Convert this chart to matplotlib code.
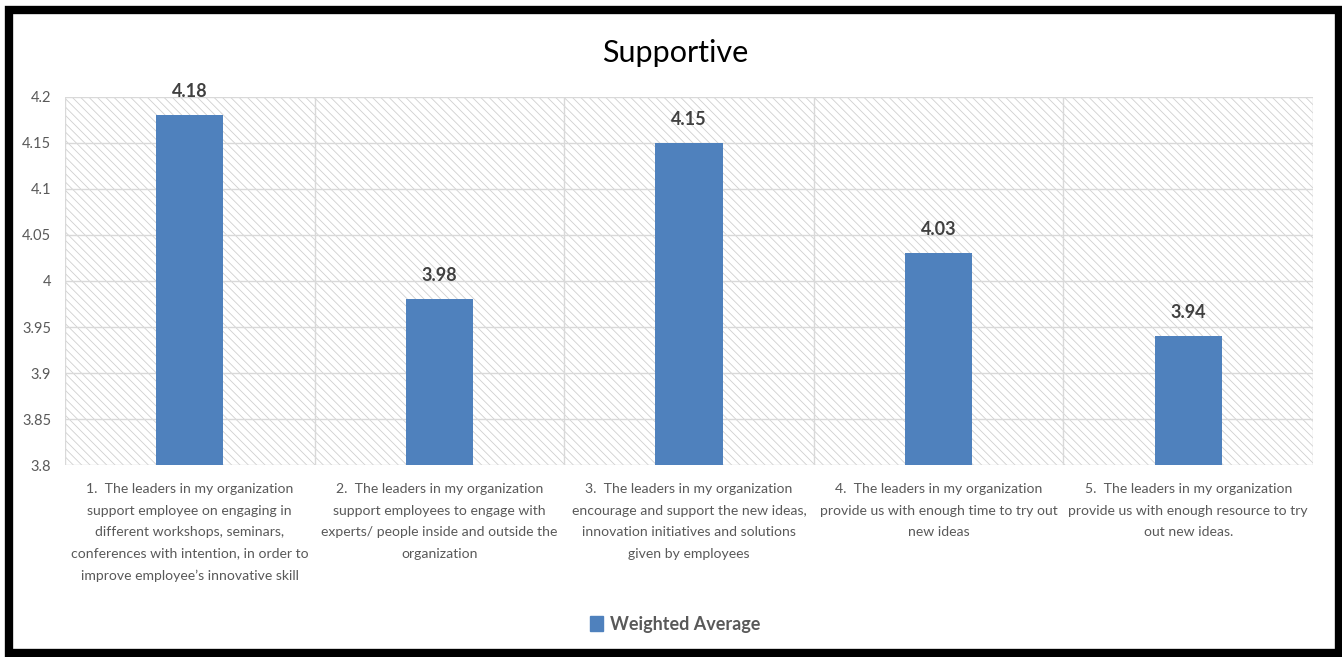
import matplotlib.pyplot as plt
from matplotlib.patches import Rectangle, Patch

plt.rcParams['font.family'] = ['Lato', 'DejaVu Sans']
plt.rcParams['hatch.linewidth'] = 0.6
plt.rcParams['hatch.color'] = '#d0d0d0'

categories = [
    "1.  The leaders in my organization\nsupport employee on engaging in\ndifferent workshops, seminars,\nconferences with intention, in order to\nimprove employee\u2019s innovative skill",
    "2.  The leaders in my organization\nsupport employees to engage with\nexperts/ people inside and outside the\norganization",
    "3.  The leaders in my organization\nencourage and support the new ideas,\ninnovation initiatives and solutions\ngiven by employees",
    "4.  The leaders in my organization\nprovide us with enough time to try out\nnew ideas",
    "5.  The leaders in my organization\nprovide us with enough resource to try\nout new ideas.",
]
weighted_avg = [4.18, 3.98, 4.15, 4.03, 3.94]
y_ticks = [3.8, 3.85, 3.9, 3.95, 4.0, 4.05, 4.1, 4.15, 4.2]
y_tick_labels = ['3.8', '3.85', '3.9', '3.95', '4', '4.05', '4.1', '4.15', '4.2']

bar_color = '#4f81bd'
grid_color = '#d9d9d9'
text_gray = '#595959'

fig = plt.figure(figsize=(13.42, 6.57), dpi=100)
ax = fig.add_axes([0.0484, 0.2922, 0.930, 0.5602])

# black frame around the whole chart
fig.patches.append(Rectangle((9 / 1342, 4 / 657), 1330 / 1342, 643 / 657,
                             transform=fig.transFigure, fill=False,
                             edgecolor='black', linewidth=6, zorder=0))

# hatched plot area background
n = len(weighted_avg)
ax.add_patch(Rectangle((-0.5, 3.8), n, 0.4, facecolor='white', hatch='\\\\\\\\',
                       edgecolor='#d0d0d0', linewidth=0, zorder=0))

x = list(range(n))
bars = ax.bar(x, weighted_avg, width=0.27, color=bar_color, zorder=3,
              label='Weighted Average')

for xi, v in zip(x, weighted_avg):
    ax.annotate(f'{v:.2f}', (xi, v), xytext=(0, 11), textcoords='offset points',
                ha='center', va='bottom', fontsize=13, fontweight='bold',
                color='#404040')

ax.set_xlim(-0.5, n - 0.5)
ax.set_ylim(3.8, 4.2)
ax.set_yticks(y_ticks)
ax.set_yticklabels(y_tick_labels, fontsize=10.5, color=text_gray)
ax.set_xticks(x)
ax.set_xticklabels(categories, fontsize=10.1, color=text_gray, linespacing=1.95)
ax.tick_params(length=0, axis='x', pad=13)
ax.tick_params(length=0, axis='y', pad=10)

for yt in y_ticks:
    ax.axhline(yt, color=grid_color, linewidth=1, zorder=1)
for b in range(n + 1):
    ax.axvline(b - 0.5, color=grid_color, linewidth=1, zorder=1)
for s in ax.spines.values():
    s.set_visible(False)

fig.text(0.503, 0.92, 'Supportive', ha='center', va='center', fontsize=22,
         color='black')

fig.legend(handles=[Patch(color=bar_color, label='Weighted Average')],
           loc='center', bbox_to_anchor=(0.503, 0.05), frameon=False,
           handlelength=0.7, handleheight=0.9, handletextpad=0.4,
           prop={'size': 13, 'weight': 'bold'}, labelcolor=text_gray)

fig.savefig('out.png', dpi=100)
